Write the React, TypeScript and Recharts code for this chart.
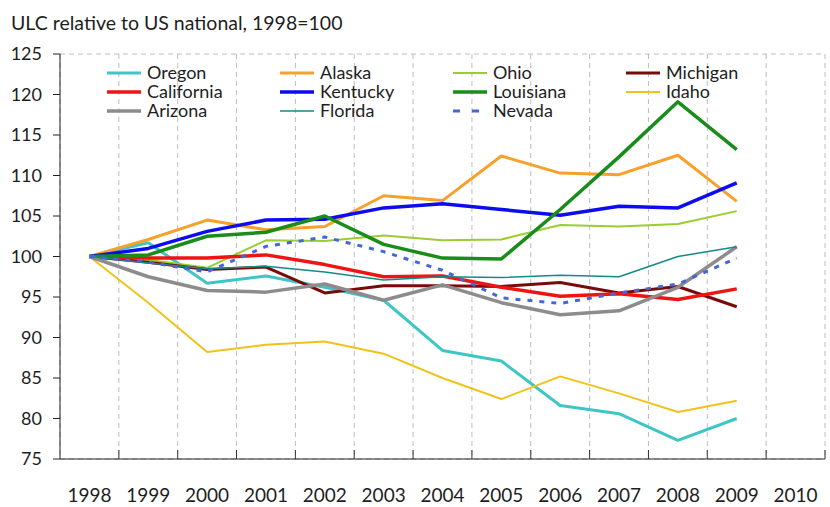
import React from 'react';
import { LineChart, Line, XAxis, YAxis, CartesianGrid } from 'recharts';

// year labels sit on whole years, tick marks on the half-year boundaries
const years = [1998, 1999, 2000, 2001, 2002, 2003, 2004, 2005, 2006, 2007, 2008, 2009];
const xTicks = [1998, 1998.5, 1999, 1999.5, 2000, 2000.5, 2001, 2001.5, 2002, 2002.5, 2003, 2003.5, 2004, 2004.5, 2005, 2005.5, 2006, 2006.5, 2007, 2007.5, 2008, 2008.5, 2009, 2009.5, 2010, 2010.5];
const gridEdges = [1998.5, 1999.5, 2000.5, 2001.5, 2002.5, 2003.5, 2004.5, 2005.5, 2006.5, 2007.5, 2008.5, 2009.5];
const yTicks = [75, 80, 85, 90, 95, 100, 105, 110, 115, 120, 125];
const yGrid = [80, 85, 90, 95, 100, 105, 110, 115, 120];

const oregon = [100, 101.7, 96.7, 97.6, 96.2, 94.6, 88.4, 87.1, 81.6, 80.6, 77.3, 80.0];
const alaska = [100, 102.1, 104.5, 103.3, 103.7, 107.5, 106.9, 112.4, 110.3, 110.1, 112.5, 106.8];
const ohio = [100, 99.6, 98.6, 102.0, 101.9, 102.6, 102.0, 102.1, 103.9, 103.7, 104.0, 105.6];
const michigan = [100, 99.3, 98.4, 98.7, 95.5, 96.4, 96.4, 96.3, 96.8, 95.5, 96.3, 93.8];
const california = [100, 99.8, 99.8, 100.2, 99.0, 97.5, 97.6, 96.2, 95.1, 95.4, 94.7, 96.0];
const kentucky = [100, 101.0, 103.1, 104.5, 104.6, 106.0, 106.5, 105.8, 105.1, 106.2, 106.0, 109.1];
const louisiana = [100, 100.2, 102.5, 103.0, 105.0, 101.5, 99.8, 99.7, 105.8, 112.3, 119.1, 113.2];
const idaho = [100, 94.3, 88.2, 89.1, 89.5, 88.0, 85.0, 82.4, 85.2, 83.1, 80.8, 82.2];
const arizona = [100, 97.5, 95.8, 95.6, 96.6, 94.6, 96.5, 94.3, 92.8, 93.3, 96.2, 101.2];
const florida = [100, 99.2, 98.5, 98.8, 98.1, 97.1, 97.5, 97.4, 97.7, 97.5, 100.0, 101.2];
const nevada = [100, 99.3, 98.1, 101.25, 102.4, 100.6, 98.3, 94.9, 94.2, 95.5, 96.6, 99.8];

const series = [
  { key: 'Oregon', values: oregon, color: '#3ec6c6', width: 3 },
  { key: 'Alaska', values: alaska, color: '#f7a12a', width: 3 },
  { key: 'Ohio', values: ohio, color: '#9acd32', width: 2 },
  { key: 'Michigan', values: michigan, color: '#7a0a0a', width: 3 },
  { key: 'California', values: california, color: '#ee1414', width: 3.5 },
  { key: 'Kentucky', values: kentucky, color: '#0c0cee', width: 3.5 },
  { key: 'Louisiana', values: louisiana, color: '#1a8c1a', width: 3.5 },
  { key: 'Idaho', values: idaho, color: '#f2c21a', width: 2 },
  { key: 'Arizona', values: arizona, color: '#8c8c8c', width: 3.5 },
  { key: 'Florida', values: florida, color: '#168a88', width: 1.5 },
  { key: 'Nevada', values: nevada, color: '#4466dd', width: 3, dash: '5 7' },
];

const data = years.map((year, i) => {
  const row: Record<string, number> = { year };
  series.forEach(s => { row[s.key] = s.values[i]; });
  return row;
});

const font = 'Lato, "Open Sans", sans-serif';
const ink = '#1e1e1e';

// boundary ticks get a short inward mark, whole years get the label
const YearTick = (props: any) => {
  const { x, y, payload } = props;
  if (payload.value % 1 !== 0) {
    return <line x1={x} x2={x} y1={y} y2={y - 9} stroke="#333" strokeWidth={1} />;
  }
  return (
    <text x={x} y={y + 43} textAnchor="middle" fill={ink} fontSize={19} fontFamily={font}>
      {payload.value}
    </text>
  );
};

const App: React.FC = () => {
  return (
    <div style={{ position: 'absolute', left: 0, top: 0, width: 830, height: 507, background: '#fff', fontFamily: font, color: ink }}>
      <div style={{ position: 'absolute', left: 11, top: 12, fontSize: 19.5, lineHeight: '22px', whiteSpace: 'nowrap' }}>
        ULC relative to US national, 1998=100
      </div>

      <LineChart width={830} height={507} data={data} margin={{ top: 54, right: 5, bottom: 0, left: 0 }}>
        <CartesianGrid xAxisId="grid" yAxisId="grid" stroke="#bdbdbd" strokeDasharray="5 4" />
        <XAxis xAxisId="grid" type="number" dataKey="year" domain={[1997.5, 2010.5]} ticks={gridEdges} hide />
        <YAxis yAxisId="grid" type="number" domain={[75, 125]} ticks={yGrid} hide />
        <XAxis
          type="number"
          dataKey="year"
          domain={[1997.5, 2010.5]}
          ticks={xTicks}
          interval={0}
          height={48}
          tickLine={false}
          tickSize={0}
          tickMargin={0}
          stroke="#222"
          tick={<YearTick />}
        />
        <YAxis
          type="number"
          domain={[75, 125]}
          ticks={yTicks}
          interval={0}
          width={60}
          tickSize={7}
          tickMargin={11}
          stroke="#222"
          tick={{ fill: ink, fontSize: 18, fontFamily: font }}
        />
        {series.map(s => (
          <Line
            key={s.key}
            dataKey={s.key}
            stroke={s.color}
            strokeWidth={s.width}
            strokeDasharray={s.dash}
            strokeLinejoin="round"
            dot={false}
            activeDot={false}
            isAnimationActive={false}
          />
        ))}
      </LineChart>

      <div style={{ position: 'absolute', left: 107, top: 63, width: 700, display: 'grid', gridTemplateColumns: 'repeat(4, 173px)', rowGap: 0 }}>
        {series.map(s => (
          <div key={s.key} style={{ display: 'flex', alignItems: 'center', height: 19, fontSize: 18, lineHeight: '19px' }}>
            <svg width={34} height={8} style={{ marginRight: 6 }}>
              <line x1={0} y1={4} x2={34} y2={4} stroke={s.color} strokeWidth={s.width} strokeDasharray={s.dash ? '7 12' : undefined} />
            </svg>
            <span>{s.key}</span>
          </div>
        ))}
      </div>
    </div>
  );
};

export default App;
